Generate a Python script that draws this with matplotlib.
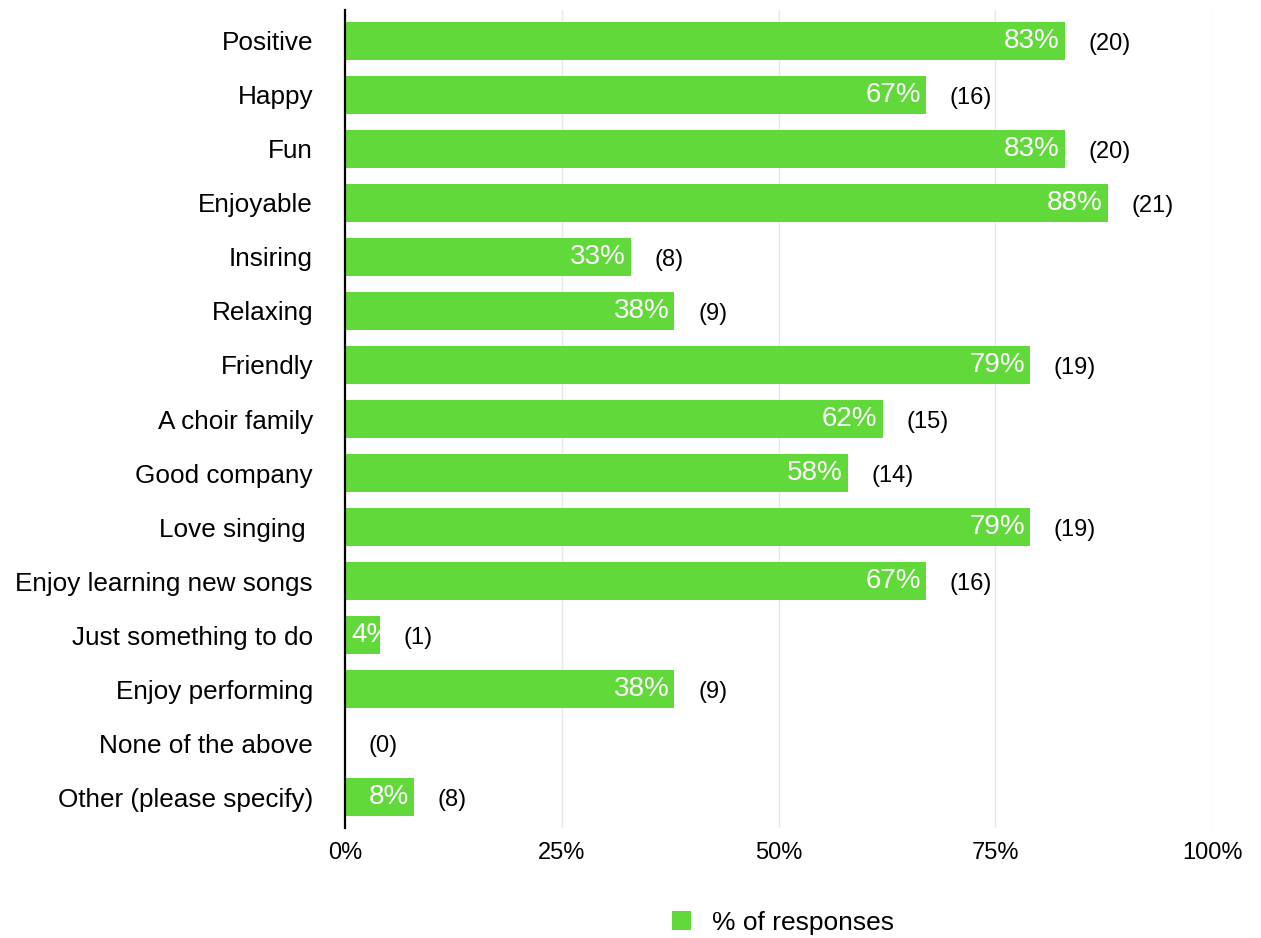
import matplotlib
matplotlib.use("Agg")
import matplotlib.pyplot as plt
from matplotlib.patches import Patch
import matplotlib.transforms as mtransforms

categories = ["Positive", "Happy", "Fun", "Enjoyable", "Insiring", "Relaxing", "Friendly",
              "A choir family", "Good company", "Love singing ", "Enjoy learning new songs",
              "Just something to do", "Enjoy performing", "None of the above",
              "Other (please specify)"]
percents = [83, 67, 83, 88, 33, 38, 79, 62, 58, 79, 67, 4, 38, 0, 8]
counts = [20, 16, 20, 21, 8, 9, 19, 15, 14, 19, 16, 1, 9, 0, 8]
xticks = [0, 25, 50, 75, 100]
legend_label = "% of responses"

GREEN = "#62d93a"
plt.rcParams["font.family"] = ["Liberation Sans", "DejaVu Sans"]

fig = plt.figure(figsize=(12.61, 9.38), dpi=100)
ax = fig.add_axes([345/1261, 1-828/938, (1212-345)/1261, (828-10)/938])

ypos = list(range(len(categories)))
bars = ax.barh(ypos, percents, height=0.7, color=GREEN, zorder=2)
ax.set_xlim(0, 100)
ax.set_ylim(len(categories)-1+0.574, -0.574)

ax.set_yticks(ypos)
ax.set_yticklabels(categories, fontsize=18.8)
ax.set_xticks(xticks)
ax.set_xticklabels([f"{t}%" for t in xticks], fontsize=17)
ax.tick_params(axis="both", length=0)
ax.tick_params(axis="y", pad=23)
ax.tick_params(axis="x", pad=10)

for t in xticks[1:]:
    ax.axvline(t, color="#e8e8e8", lw=1, zorder=1)

for s in ["top", "right", "bottom"]:
    ax.spines[s].set_visible(False)
ax.spines["left"].set_color("black")
ax.spines["left"].set_linewidth(1.6)
ax.spines["left"].set_zorder(3)

fig.canvas.draw()
renderer = fig.canvas.get_renderer()

for bar, p, c, y in zip(bars, percents, counts, ypos):
    if p > 0:
        off = mtransforms.offset_copy(ax.transData, fig=fig, x=-3.6, y=0, units="points")
        t = ax.text(p, y, f"{p}%", transform=off, color="white", fontsize=20,
                    ha="right", va="center", zorder=4)
        tw = t.get_window_extent(renderer).width
        bw = bar.get_window_extent(renderer).width
        if tw + 6 > bw:
            t.set_transform(mtransforms.offset_copy(ax.transData, fig=fig, x=4.5, y=0, units="points"))
            t.set_x(0)
            t.set_ha("left")
        t.set_clip_path(bar)
    off2 = mtransforms.offset_copy(ax.transData, fig=fig, x=17, y=-2.2, units="points")
    ax.text(p, y, f"({c})", transform=off2, color="black", fontsize=17,
            ha="left", va="center", zorder=4)

handle = Patch(facecolor=GREEN, edgecolor="none")
fig.legend([handle], [legend_label], loc="center", bbox_to_anchor=(783/1261, 1-923/938),
           frameon=False, fontsize=19, handlelength=0.75, handleheight=0.75, handletextpad=0.8)

fig.savefig("out.png", dpi=100)
